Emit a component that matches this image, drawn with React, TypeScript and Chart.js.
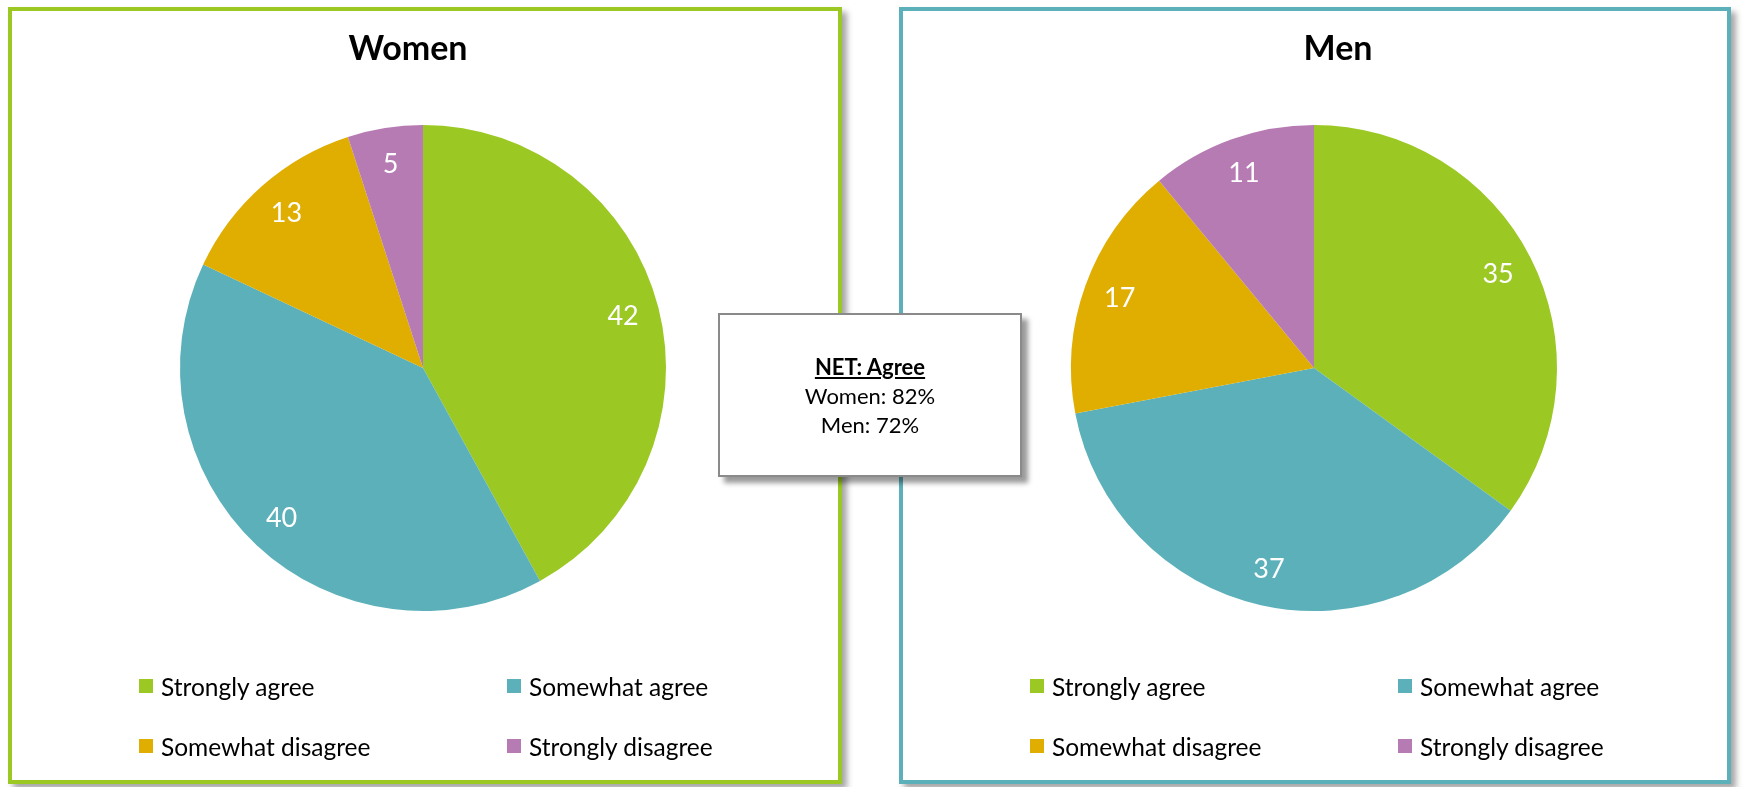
import React, { useEffect, useRef } from "react";
import { Chart, registerables } from "chart.js";

Chart.register(...registerables);

const categories = ["Strongly agree", "Somewhat agree", "Somewhat disagree", "Strongly disagree"];
const womenValues = [42, 40, 13, 5];
const menValues = [35, 37, 17, 11];
const sliceColors = ["#9BC823", "#5BB0BA", "#E0AE00", "#B77BB4"];
const panelTitles = ["Women", "Men"];
const netTitle = "NET: Agree";
const netLines = ["Women: 82%", "Men: 72%"];

const FONT = "Lato, 'Noto Sans', sans-serif";

const labelPlugin = {
  id: "sliceLabels",
  afterDatasetsDraw(chart: any) {
    const ctx = chart.ctx;
    const meta = chart.getDatasetMeta(0);
    const data = chart.data.datasets[0].data;
    ctx.save();
    ctx.fillStyle = "#ffffff";
    ctx.font = `27px ${FONT}`;
    ctx.textAlign = "center";
    ctx.textBaseline = "middle";
    meta.data.forEach((arc: any, i: number) => {
      const p = arc.getProps(["x", "y", "startAngle", "endAngle", "outerRadius"], true);
      const mid = (p.startAngle + p.endAngle) / 2;
      const r = p.outerRadius * 0.85;
      ctx.fillText(String(data[i]), p.x + Math.cos(mid) * r, p.y + Math.sin(mid) * r);
    });
    ctx.restore();
  },
};

const titlePlugin = {
  id: "panelTitle",
  afterDraw(chart: any, _args: any, opts: any) {
    const ctx = chart.ctx;
    ctx.save();
    ctx.fillStyle = "#000000";
    ctx.font = `bold 34px ${FONT}`;
    ctx.textAlign = "center";
    ctx.textBaseline = "middle";
    ctx.fillText(opts.text, opts.x, opts.y);
    ctx.restore();
  },
};

function PiePanel(props: { title: string; titleX: number; values: number[]; color: string; left: number; width: number }) {
  const ref = useRef<HTMLCanvasElement | null>(null);
  const innerW = props.width - 8;
  const innerH = 777 - 8;
  useEffect(() => {
    if (!ref.current) return;
    const chart = new Chart(ref.current, {
      type: "pie",
      data: {
        labels: categories,
        datasets: [
          {
            data: props.values,
            backgroundColor: sliceColors,
            borderWidth: 0,
          },
        ],
      },
      options: {
        responsive: false,
        animation: false,
        rotation: 0,
        layout: { padding: { left: 168, right: innerW - 168 - 486, top: 114, bottom: innerH - 114 - 486 } },
        plugins: {
          legend: { display: false },
          tooltip: { enabled: false },
          title: { display: false },
          panelTitle: { text: props.title, x: props.titleX, y: 38 },
        } as any,
      },
      plugins: [labelPlugin, titlePlugin],
    });
    return () => chart.destroy();
  }, []);

  const colX = [131, 499];
  const rowY = [679, 739];
  return (
    <div
      style={{
        position: "absolute",
        left: props.left,
        top: 7,
        width: props.width,
        height: 777,
        boxSizing: "border-box",
        border: `4px solid ${props.color}`,
        background: "#ffffff",
        boxShadow: "5px 5px 6px rgba(0,0,0,0.35)",
        zIndex: 1,
      }}
    >
      <canvas ref={ref} width={innerW} height={innerH} style={{ position: "absolute", left: 0, top: 0, width: innerW, height: innerH }} />
      {categories.map((c, i) => (
        <div
          key={c}
          style={{
            position: "absolute",
            left: colX[i % 2] - 4,
            top: rowY[Math.floor(i / 2)] - 4 - 15,
            height: 30,
            display: "flex",
            alignItems: "center",
            fontFamily: FONT,
            fontSize: 24.5,
            color: "#000000",
            whiteSpace: "nowrap",
          }}
        >
          <span style={{ display: "inline-block", width: 14, height: 14, background: sliceColors[i], marginRight: 8 }} />
          <span>{c}</span>
        </div>
      ))}
    </div>
  );
}

export default function App() {
  return (
    <div style={{ position: "absolute", left: 0, top: 0, width: 1744, height: 787, background: "#ffffff", overflow: "hidden" }}>
      <PiePanel title={panelTitles[0]} titleX={396} values={womenValues} color="#9BC823" left={8} width={834} />
      <PiePanel title={panelTitles[1]} titleX={435} values={menValues} color="#5BB0BA" left={899} width={832} />
      <div
        style={{
          position: "absolute",
          left: 718,
          top: 313,
          width: 304,
          height: 164,
          boxSizing: "border-box",
          border: "2px solid #8a8a8a",
          background: "#ffffff",
          boxShadow: "6px 6px 5px rgba(0,0,0,0.4)",
          zIndex: 3,
          display: "flex",
          flexDirection: "column",
          alignItems: "center",
          justifyContent: "center",
          fontFamily: FONT,
          fontSize: 22,
          lineHeight: "29px",
          color: "#000000",
        }}
      >
        <div style={{ fontWeight: "bold", textDecoration: "underline" }}>{netTitle}</div>
        {netLines.map((l) => (
          <div key={l}>{l}</div>
        ))}
      </div>
    </div>
  );
}
